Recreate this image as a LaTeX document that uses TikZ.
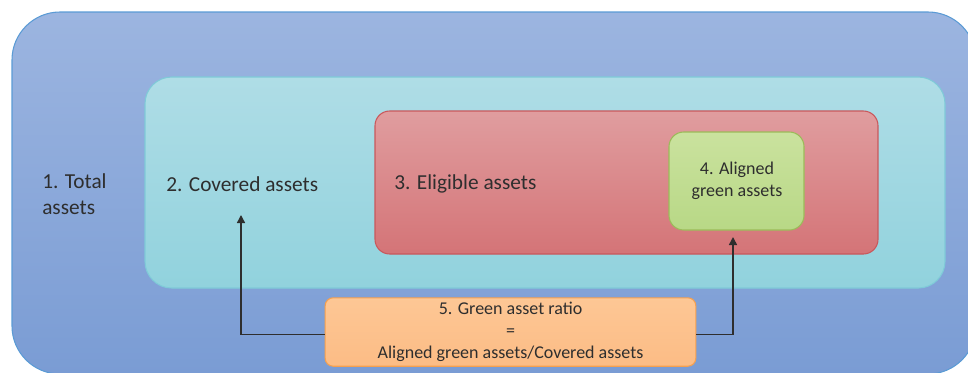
\documentclass[tikz,border=0pt]{standalone}
\usepackage{fontspec}
\setmainfont{Carlito}
\usetikzlibrary{positioning}
\usetikzlibrary{arrows.meta}
\definecolor{outerline}{HTML}{5B9BD5}
\definecolor{outertop}{HTML}{9CB5E0}
\definecolor{outerbot}{HTML}{7A9CD4}
\definecolor{covline}{HTML}{7FCAD8}
\definecolor{covtop}{HTML}{AFDDE6}
\definecolor{covbot}{HTML}{91D2DD}
\definecolor{eligline}{HTML}{C9585C}
\definecolor{eligtop}{HTML}{E09D9F}
\definecolor{eligbot}{HTML}{D47477}
\definecolor{alignline}{HTML}{9BBB59}
\definecolor{aligntop}{HTML}{CAE29E}
\definecolor{alignbot}{HTML}{B8D886}
\definecolor{ratioline}{HTML}{F5A04F}
\definecolor{ratiotop}{HTML}{FDC795}
\definecolor{ratiobot}{HTML}{FCBC85}
\definecolor{txtgray}{HTML}{2E2E2E}

\begin{document}
\begin{tikzpicture}[x=0.75pt,y=-0.75pt,
		box/.style={line width=0.8pt},
		bigtxt/.style={text=txtgray, inner sep=0pt, align=left, font=\fontsize{16}{19}\selectfont},
		smalltxt/.style={text=txtgray, align=center, font=\fontsize{13.5}{16.5}\selectfont},
		ratioarrow/.style={draw=txtgray, line width=1.1pt, -{Triangle[length=6pt,width=6pt]}}]
		\useasboundingbox (0,0) rectangle (968,372);
		\clip (0,0) rectangle (968,372);
		
		% 1. outer box, runs off the page at right and bottom
		\draw[box, draw=outerline, top color=outertop, bottom color=outerbot, rounded corners=36pt] (12,12) rectangle (976,374);
		% 2. covered
		\draw[box, draw=covline, top color=covtop, bottom color=covbot, rounded corners=20pt] (145,77) rectangle (945,288);
		% 3. eligible
		\draw[box, draw=eligline, top color=eligtop, bottom color=eligbot, rounded corners=11pt] (375,111) rectangle (878,254);
		% 4. aligned
		\draw[box, draw=alignline, top color=aligntop, bottom color=alignbot, rounded corners=11pt] (669,132) rectangle (804,230);
		
		% labels
		\node[bigtxt, anchor=west] (total) at (42,194) {1. Total\\assets};
		\node[bigtxt, anchor=west] (covered) at (166,184) {2. Covered assets};
		\node[bigtxt, anchor=west] (eligible) at (394,184) {3. Eligible assets};
		\node[smalltxt] (aligned) at (737,181) {4. Aligned\\green assets};
		
		% 5. ratio
		\node[box, smalltxt, draw=ratioline, top color=ratiotop, bottom color=ratiobot, rounded corners=6pt, minimum width=278pt, minimum height=51pt] (ratio) at (510.5,332) {5. Green asset ratio\\=\\Aligned green assets/Covered assets};
		
		\coordinate (covtip) at (241,215);
		\coordinate (aligntip) at (733,237);
		\draw[ratioarrow] ([yshift=-2pt]ratio.west) -| (covtip);
		\draw[ratioarrow] ([yshift=-2pt]ratio.east) -| (aligntip);
	\end{tikzpicture}
\end{document}
